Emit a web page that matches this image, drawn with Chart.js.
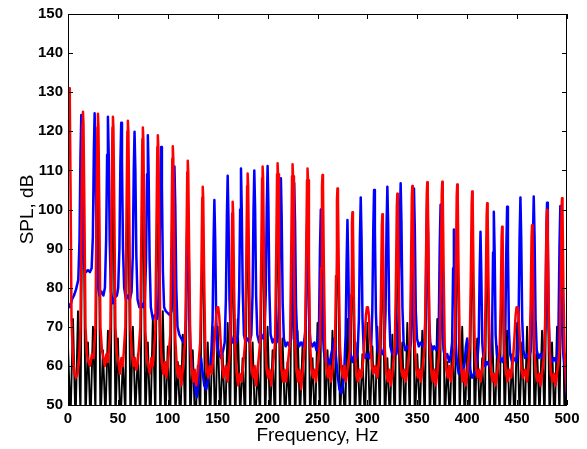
<!DOCTYPE html>
<html>
<head>
<meta charset="utf-8">
<script src="https://cdn.jsdelivr.net/npm/chart.js@4.4.0/dist/chart.umd.min.js"></script>
<style>
  html, body { margin: 0; padding: 0; background: #fff; }
  #wrap { width: 587px; height: 449px; }
</style>
</head>
<body>
<div id="wrap"><canvas id="spl" width="587" height="449"></canvas></div>
<script>
// axis ticks
const freqTicks = [0, 50, 100, 150, 200, 250, 300, 350, 400, 450, 500]
const splTicks = [50, 60, 70, 80, 90, 100, 110, 120, 130, 140, 150]

// red trace, [Hz, dB] (harmonics of ~15 Hz)
const redSpectrum = [
  [0, 118], [0.6, 129], [1.2, 131], [1.8, 128], [2.6, 104], [3.5, 72],
  [5, 62], [6.5, 58], [8, 57], [9.5, 58], [11, 61], [12.5, 70],
  [13.6, 101], [14.5, 122], [15, 125], [15.5, 122], [16.4, 101], [17.5, 70],
  [19, 63], [20.5, 61], [22, 60], [24, 63], [25.5, 62], [27.5, 70],
  [28.6, 100], [29.5, 121], [30, 124.5], [30.5, 121], [31.4, 100], [32.5, 70],
  [34, 64], [35.5, 62], [37, 60], [38.5, 63], [40, 61], [42.5, 70],
  [43.6, 100], [44.5, 121], [45, 123.7], [45.5, 121], [46.4, 100], [47.5, 70],
  [49, 63], [50.5, 61], [52, 58], [53.5, 62], [55, 60], [57.5, 70],
  [58.6, 99], [59.5, 120], [60, 122.7], [60.5, 120], [61.4, 99], [62.5, 70],
  [64, 63], [65.5, 60], [67, 62], [68.5, 59], [70, 61], [72.5, 70],
  [73.6, 97], [74.5, 118], [75, 121], [75.5, 118], [76.4, 97], [77.5, 69],
  [79, 62], [80.5, 60], [82, 58], [83.5, 62], [85, 60], [87.5, 69],
  [88.6, 95], [89.5, 116], [90, 119], [90.5, 116], [91.4, 95], [92.5, 68],
  [94, 61], [95.5, 58], [97, 61], [98.5, 57], [100, 60], [102.5, 68],
  [103.6, 92], [104.5, 113], [105, 116.2], [105.5, 113], [106.4, 92], [107.5, 67],
  [109, 60], [110.5, 57], [112, 60], [113.5, 55], [115, 59], [117.5, 67],
  [118.6, 89], [119.5, 109.5], [120, 112.5], [120.5, 109.5], [121.4, 89], [122.5, 66],
  [124, 59], [125.5, 56], [127, 59], [128.5, 55], [130, 58], [132.5, 66],
  [133.6, 83], [134.5, 103], [135, 105.8], [135.5, 103], [136.4, 83], [137.5, 65],
  [139, 59], [140.5, 57], [142, 60], [144, 58], [146, 63], [147.5, 69],
  [148.5, 73], [149.5, 75], [150.5, 75], [151.5, 73], [153, 66],
  [154.5, 60], [156, 57], [158, 60], [160, 56], [162.5, 65],
  [163.6, 80], [164.5, 99], [165, 102], [165.5, 99], [166.4, 80], [167.5, 65],
  [169, 58], [170.5, 55], [172, 58], [174, 56], [175.5, 60], [177.5, 66],
  [178.6, 86], [179.5, 106], [180, 109.2], [180.5, 106], [181.4, 86], [182.5, 66],
  [184, 59], [185.5, 57], [187, 60], [188.5, 55], [190, 59], [192.5, 66],
  [193.6, 87], [194.5, 108], [195, 111], [195.5, 108], [196.4, 87], [197.5, 66],
  [199, 59], [200.5, 57], [202, 59], [203.5, 55], [205, 59], [207.5, 66],
  [208.6, 88], [209.5, 109], [210, 111.8], [210.5, 109], [211.4, 88], [212.5, 66],
  [214, 59], [215.5, 56], [217, 59], [218.5, 56], [220, 60], [222.5, 66],
  [223.6, 88], [224.5, 108.5], [225, 111.6], [225.5, 108.5], [226.4, 88], [227.5, 66],
  [229, 59], [230.5, 56], [232, 59], [233.5, 54], [235, 58], [237.5, 66],
  [238.6, 87], [239.5, 107.5], [240, 110.5], [240.5, 107.5], [241.4, 87], [242.5, 66],
  [244, 59], [245.5, 57], [247, 59], [248.5, 56], [250, 60], [252.5, 66],
  [253.6, 85], [254.5, 106], [255, 108.8], [255.5, 106], [256.4, 85], [257.5, 65],
  [259, 59], [260.5, 57], [262, 60], [263.5, 56], [265, 59], [267.5, 65],
  [268.6, 83], [269.5, 102.5], [270, 105.4], [270.5, 102.5], [271.4, 83], [272.5, 65],
  [274, 59], [275.5, 57], [277, 60], [278.5, 56], [280, 59], [282.5, 64],
  [283.6, 78], [284.5, 96.5], [285, 99.3], [285.5, 96.5], [286.4, 78], [287.5, 64],
  [289, 58], [290.5, 56], [292, 59], [294, 57], [296, 62], [297.5, 68],
  [298.5, 73], [299.5, 75], [300.5, 75], [301.5, 73], [303, 66],
  [304.5, 60], [306, 58], [308, 60], [310, 57], [312.5, 64],
  [313.6, 78], [314.5, 96], [315, 98.8], [315.5, 96], [316.4, 78], [317.5, 64],
  [319, 58], [320.5, 56], [322, 59], [323.5, 55], [325, 58], [327.5, 65],
  [328.6, 82], [329.5, 101], [330, 104], [330.5, 101], [331.4, 82], [332.5, 65],
  [334, 59], [335.5, 57], [337, 59], [338.5, 56], [340, 59], [342.5, 65],
  [343.6, 83], [344.5, 103], [345, 106], [345.5, 103], [346.4, 83], [347.5, 65],
  [349, 59], [350.5, 57], [352, 59], [353.5, 56], [355, 59], [357.5, 65],
  [358.6, 84], [359.5, 104], [360, 107], [360.5, 104], [361.4, 84], [362.5, 65],
  [364, 59], [365.5, 56], [367, 59], [368.5, 55], [370, 58], [372.5, 65],
  [373.6, 84], [374.5, 104], [375, 107.1], [375.5, 104], [376.4, 84], [377.5, 65],
  [379, 59], [380.5, 57], [382, 60], [383.5, 56], [385, 59], [387.5, 65],
  [388.6, 83], [389.5, 103.5], [390, 106.4], [390.5, 103.5], [391.4, 83], [392.5, 65],
  [394, 59], [395.5, 56], [397, 59], [398.5, 55], [400, 58], [402.5, 65],
  [403.6, 82], [404.5, 101.5], [405, 104.6], [405.5, 101.5], [406.4, 82], [407.5, 65],
  [409, 59], [410.5, 57], [412, 59], [413.5, 56], [415, 59], [417.5, 64],
  [418.6, 80], [419.5, 98.5], [420, 101.6], [420.5, 98.5], [421.4, 80], [422.5, 64],
  [424, 58], [425.5, 56], [427, 58], [428.5, 55], [430, 58], [432.5, 64],
  [433.6, 76], [434.5, 93], [435, 95.6], [435.5, 93], [436.4, 76], [437.5, 63],
  [439, 58], [440.5, 56], [442, 59], [444, 57], [446, 62], [447.5, 68],
  [448.5, 73], [449.5, 75], [450.5, 75], [451.5, 73], [453, 65],
  [454.5, 59], [456, 57], [458, 59], [460, 56], [462.5, 64],
  [463.6, 76], [464.5, 93], [465, 96], [465.5, 93], [466.4, 76], [467.5, 63],
  [469, 58], [470.5, 56], [472, 58], [473.5, 55], [475, 58], [477.5, 64],
  [478.6, 78], [479.5, 97], [480, 99.9], [480.5, 97], [481.4, 78], [482.5, 64],
  [484, 58], [485.5, 56], [487, 58], [488.5, 55], [490, 58], [492.5, 64],
  [493.6, 80], [494.5, 100], [495, 102.9], [495.5, 100], [496.4, 80], [497.5, 64],
  [499, 57], [500, 53]
]

// blue trace, [Hz, dB] (harmonics of ~13.3 Hz)
const blueSpectrum = [
  [0, 76], [2, 75], [4, 77], [6, 78], [8, 79.5], [10.3, 82],
  [11.5, 92], [12.5, 114], [13.33, 124.2], [14.1, 114], [15.1, 92], [16.3, 85],
  [18, 84], [20, 84.5], [22, 84], [23.7, 85],
  [24.9, 93], [25.9, 115], [26.67, 124.6], [27.5, 115], [28.5, 93], [29.7, 81],
  [31.5, 78], [33.5, 79], [35.5, 78], [37, 80],
  [38.2, 92], [39.2, 114], [40, 123.7], [40.8, 114], [41.8, 92], [43, 79],
  [45, 76], [47, 77.5], [49, 78], [50.3, 80],
  [51.5, 90], [52.5, 112], [53.33, 122.2], [54.1, 112], [55.1, 90], [56.3, 80],
  [58, 77], [60, 78], [62, 77], [63.7, 79],
  [64.9, 88], [65.9, 110], [66.67, 119.9], [67.5, 110], [68.5, 88], [69.7, 77],
  [71.5, 75], [73.5, 76], [75.5, 75], [77, 77],
  [78.2, 87], [79.2, 109], [80, 119], [80.8, 109], [81.8, 87], [83, 75],
  [85, 72], [87, 73], [89, 72], [90.3, 74],
  [91.5, 84], [92.5, 106], [93.33, 116], [94.1, 106], [95.1, 84], [96.3, 75],
  [98, 74], [100, 73.5], [102, 73], [103.7, 74],
  [104.9, 80], [105.9, 101], [106.67, 111], [107.5, 101], [108.5, 80], [109.7, 70],
  [111.5, 68], [113.5, 67], [115.5, 66], [117, 67],
  [118.2, 72], [119.2, 92], [120, 102], [120.8, 92], [121.8, 72], [123, 63],
  [125, 58], [127, 55], [129, 52], [130.3, 55],
  [132, 60], [133.33, 62], [134.6, 59],
  [136.5, 55], [138.5, 54], [140.5, 57], [142.5, 60], [143.7, 64],
  [144.9, 72], [145.9, 92], [146.67, 102.4], [147.5, 92], [148.5, 72], [149.7, 65],
  [151.5, 63], [153.5, 62], [155.5, 64], [157, 66],
  [158.2, 77], [159.2, 98], [160, 108.6], [160.8, 98], [161.8, 77], [163, 68],
  [165, 66], [167, 67], [169, 66], [170.3, 68],
  [171.5, 79], [172.5, 100], [173.33, 110.5], [174.1, 100], [175.1, 79], [176.3, 68],
  [178, 66], [180, 67], [182, 66], [183.7, 68],
  [184.9, 78], [185.9, 100], [186.67, 110], [187.5, 100], [188.5, 78], [189.7, 68],
  [191.5, 66], [193.5, 68], [195.5, 67], [197, 69],
  [198.2, 79], [199.2, 101], [200, 111.1], [200.8, 101], [201.8, 79], [203, 68],
  [205, 66], [207, 67], [209, 66], [210.3, 68],
  [211.5, 76], [212.5, 98], [213.33, 108], [214.1, 98], [215.1, 76], [216.3, 67],
  [218, 65], [220, 66], [222, 65], [223.7, 67],
  [224.9, 75], [225.9, 97], [226.67, 106.8], [227.5, 97], [228.5, 75], [229.7, 67],
  [231.5, 65], [233.5, 66], [235.5, 65], [237, 67],
  [238.2, 70], [239.2, 91], [240, 101], [240.8, 91], [241.8, 70], [243, 66],
  [245, 65], [247, 66], [249, 64], [250.3, 66],
  [251.5, 70], [252.5, 90], [253.33, 100], [254.1, 90], [255.1, 70], [256.3, 64],
  [258, 61], [260, 62], [262, 60], [263.7, 63],
  [265.5, 65], [266.67, 67], [268, 64],
  [270, 58], [272, 54], [274, 53], [276, 56], [277, 60],
  [278.2, 68], [279.2, 87], [280, 97.3], [280.8, 87], [281.8, 68], [283, 63],
  [285, 61], [287, 63], [289, 62], [290.3, 64],
  [291.5, 72], [292.5, 93], [293.33, 103.1], [294.1, 93], [295.1, 72], [296.3, 64],
  [298, 62], [300, 63], [302, 62], [303.7, 64],
  [304.9, 74], [305.9, 95], [306.67, 105], [307.5, 95], [308.5, 74], [309.7, 65],
  [311.5, 63], [313.5, 64], [315.5, 63], [317, 65],
  [318.2, 74], [319.2, 96], [320, 105.8], [320.8, 96], [321.8, 74], [323, 65],
  [325, 63], [327, 64], [329, 63], [330.3, 65],
  [331.5, 75], [332.5, 97], [333.33, 106.7], [334.1, 97], [335.1, 75], [336.3, 66],
  [338, 64], [340, 65], [342, 64], [343.7, 66],
  [344.9, 74], [345.9, 95], [346.67, 105.4], [347.5, 95], [348.5, 74], [349.7, 67],
  [351.5, 65], [353.5, 66], [355.5, 65], [357, 66],
  [358.2, 72], [359.2, 94], [360, 103.7], [360.8, 94], [361.8, 72], [363, 66],
  [365, 64], [367, 65], [369, 64], [370.3, 65],
  [371.5, 70], [372.5, 91], [373.33, 101.2], [374.1, 91], [375.1, 70], [376.3, 64],
  [378, 62], [380, 63], [382, 61], [383.7, 63],
  [384.9, 66], [385.9, 85], [386.67, 94.9], [387.5, 85], [388.5, 66], [389.7, 61],
  [391.5, 58], [393.5, 59], [395.5, 58], [397.5, 61],
  [398.7, 65], [400, 67], [401.3, 64],
  [403, 59], [405, 57], [407, 58], [409, 59], [410.3, 62],
  [411.5, 66], [412.5, 84], [413.33, 94.3], [414.1, 84], [415.1, 66], [416.3, 62],
  [418, 60], [420, 61], [422, 60], [423.7, 62],
  [424.9, 68], [425.9, 89], [426.67, 99.4], [427.5, 89], [428.5, 68], [429.7, 63],
  [431.5, 61], [433.5, 62], [435.5, 61], [437, 63],
  [438.2, 69], [439.2, 90], [440, 100.7], [440.8, 90], [441.8, 69], [443, 63],
  [445, 61], [447, 62], [449, 61], [450.3, 63],
  [451.5, 72], [452.5, 93], [453.33, 103.1], [454.1, 93], [455.1, 72], [456.3, 64],
  [458, 62], [460, 63], [462, 62], [463.7, 64],
  [464.9, 72], [465.9, 93], [466.67, 103.3], [467.5, 93], [468.5, 72], [469.7, 64],
  [471.5, 62], [473.5, 63], [475.5, 62], [477, 64],
  [478.2, 70], [479.2, 92], [480, 101.7], [480.8, 92], [481.8, 70], [483, 63],
  [485, 61], [487, 62], [489, 61], [490.3, 63],
  [491.5, 70], [492.5, 91], [493.33, 100.9], [494.1, 91], [495.1, 70], [496.3, 63],
  [498, 59], [500, 52]
]

// black trace, one value every 2.5 Hz from 0 to 500 Hz
const blackBinHz = 2.5
const blackSpl = [
  65, 46, 72, 45, 74, 47, 122, 46, 66, 45, 70, 48, 121, 45, 64, 47, 69, 45, 120, 46,
  67, 44, 62, 47, 119, 45, 70, 48, 63, 45, 117, 46, 66, 44, 72, 47, 115, 45, 74, 46,
  65, 44, 112, 47, 61, 45, 68, 46, 108, 45, 64, 44, 60, 47, 102, 45, 66, 46, 70, 44,
  70, 47, 63, 45, 71, 46, 98, 44, 72, 47, 62, 45, 105, 46, 66, 44, 60, 47, 107, 45,
  70, 46, 64, 44, 108, 47, 67, 45, 61, 46, 108, 44, 69, 47, 65, 45, 107, 46, 62, 44,
  71, 47, 105, 45, 64, 46, 69, 44, 102, 47, 60, 45, 72, 46, 96, 44, 66, 47, 63, 45,
  71, 46, 65, 44, 70, 47, 95, 45, 62, 46, 68, 44, 100, 47, 66, 45, 71, 46, 102, 44,
  63, 47, 69, 45, 103, 46, 65, 44, 72, 47, 103, 45, 61, 46, 68, 44, 102, 47, 70, 45,
  64, 46, 101, 44, 67, 47, 62, 45, 98, 46, 71, 44, 65, 47, 92, 45, 69, 46, 63, 44,
  71, 47, 66, 45, 70, 46, 93, 44, 64, 47, 69, 45, 96, 46, 66, 44, 70, 47, 99, 45,
  63
]

const toPoints = (pairs) => pairs.map(([x, y]) => ({ x, y }))
const blackPoints = blackSpl.map((y, i) => ({ x: i * blackBinHz, y }))

const fontFamily = "'Liberation Sans', Arial, Helvetica, sans-serif"

// MATLAB style frame with inward ticks on all four sides
const boxTicks = {
  id: 'boxTicks',
  afterDatasetsDraw (chart) {
    const { ctx, chartArea: a, scales: { x, y } } = chart
    const len = 5
    ctx.save()
    ctx.strokeStyle = '#000'
    ctx.lineWidth = 1
    ctx.beginPath()
    ctx.rect(Math.round(a.left) + 0.5, Math.round(a.top) + 0.5,
      Math.round(a.right - a.left) - 1, Math.round(a.bottom - a.top))
    freqTicks.forEach(v => {
      const px = Math.round(x.getPixelForValue(v)) + 0.5
      ctx.moveTo(px, a.bottom); ctx.lineTo(px, a.bottom - len)
      ctx.moveTo(px, a.top); ctx.lineTo(px, a.top + len)
    })
    splTicks.forEach(v => {
      const py = Math.round(y.getPixelForValue(v)) + 0.5
      ctx.moveTo(a.left, py); ctx.lineTo(a.left + len, py)
      ctx.moveTo(a.right, py); ctx.lineTo(a.right - len, py)
    })
    ctx.stroke()
    ctx.restore()
  }
}

new Chart(document.getElementById('spl'), {
  type: 'line',
  data: {
    datasets: [
      {
        label: 'red',
        data: toPoints(redSpectrum),
        borderColor: '#ff0000',
        borderWidth: 2.5,
        order: 0
      },
      {
        label: 'blue',
        data: toPoints(blueSpectrum),
        borderColor: '#0000ff',
        borderWidth: 2.5,
        order: 1
      },
      {
        label: 'black',
        data: blackPoints,
        borderColor: '#000000',
        borderWidth: 1.9,
        order: 2
      }
    ]
  },
  options: {
    responsive: false,
    animation: false,
    events: [],
    elements: {
      point: { radius: 0 },
      line: { tension: 0, borderJoinStyle: 'round', fill: false }
    },
    datasets: { line: { clip: 0 } },
    layout: { padding: { top: 14, right: 20, left: 0, bottom: 0 } },
    plugins: {
      legend: { display: false },
      tooltip: { enabled: false }
    },
    scales: {
      x: {
        type: 'linear',
        min: 0,
        max: 500,
        afterBuildTicks: (s) => { s.ticks = freqTicks.map(v => ({ value: v })) },
        afterFit: (s) => { s.height = 44 },
        grid: { display: false, drawTicks: false },
        border: { display: false },
        ticks: {
          color: '#000',
          padding: 5,
          maxRotation: 0,
          font: { family: fontFamily, size: 15, weight: 'bold' }
        },
        title: {
          display: true,
          text: 'Frequency, Hz',
          color: '#000',
          padding: { top: 0, bottom: 2 },
          font: { family: fontFamily, size: 19 }
        }
      },
      y: {
        type: 'linear',
        min: 50,
        max: 150,
        afterBuildTicks: (s) => { s.ticks = splTicks.map(v => ({ value: v })) },
        afterFit: (s) => { s.width = 68 },
        grid: { display: false, drawTicks: false },
        border: { display: false },
        ticks: {
          color: '#000',
          padding: 5,
          font: { family: fontFamily, size: 15, weight: 'bold' }
        },
        title: {
          display: true,
          text: 'SPL, dB',
          color: '#000',
          padding: { top: 16, bottom: 0 },
          font: { family: fontFamily, size: 19 }
        }
      }
    }
  },
  plugins: [boxTicks]
})
</script>
</body>
</html>
